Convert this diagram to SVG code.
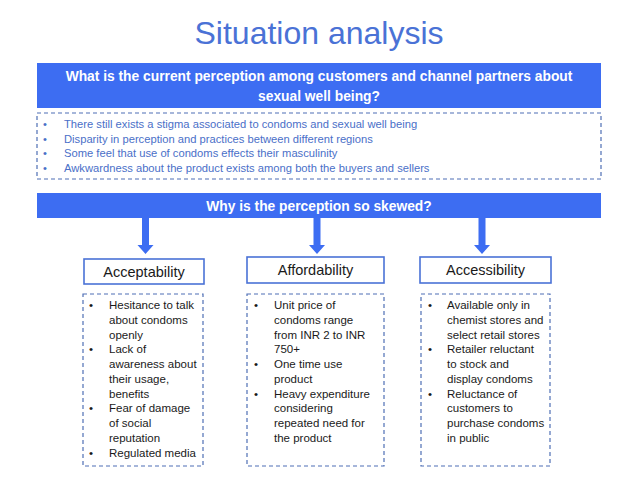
<svg xmlns="http://www.w3.org/2000/svg" width="638" height="479" viewBox="0 0 638 479">
<style>
text{font-family:"Liberation Sans",Arial,sans-serif}
.title{font-size:32px;fill:#4a72d6}
.bar{fill:#3d6df2}
.bt{font-size:13.8px;font-weight:bold;fill:#ffffff}
.dash{fill:#ffffff;stroke:#4f6fb5;stroke-width:1.2;stroke-dasharray:4 3}
.lst{font-size:11.2px;fill:#4a6fc8}
.hdr{fill:#ffffff;stroke:#4a72d6;stroke-width:1.6}
.ht{font-size:14.5px;fill:#1a1a1a}
.bx{font-size:11.5px;fill:#1a1a1a}
.arr{fill:#3d6df2}
</style>
<rect width="638" height="479" fill="#ffffff"/>
<g id="title"><text class="title" x="319" y="44" text-anchor="middle">Situation analysis</text></g>

<g id="q1">
<rect class="bar" x="37" y="63" width="564" height="45"/>
<text class="bt" x="319" y="81" text-anchor="middle">What is the current perception among customers and channel partners about</text>
<text class="bt" x="319" y="101" text-anchor="middle">sexual well being?</text>
</g>

<g id="findings">
<rect class="dash" x="37" y="113" width="564" height="66"/>
<g class="lst">
<text x="43" y="128">•</text><text x="64" y="128">There still exists a stigma associated to condoms and sexual well being</text>
<text x="43" y="143">•</text><text x="64" y="143">Disparity in perception and practices between different regions</text>
<text x="43" y="157">•</text><text x="64" y="157">Some feel that use of condoms effects their masculinity</text>
<text x="43" y="172">•</text><text x="64" y="172">Awkwardness about the product exists among both the buyers and sellers</text>
</g>
</g>

<g id="q2">
<rect class="bar" x="37" y="193" width="564" height="25"/>
<text class="bt" x="319" y="211" text-anchor="middle">Why is the perception so skewed?</text>
</g>

<g id="connectors">
<polygon class="arr" points="142,218 149,218 149,245 153.5,245 145.5,254 137.5,245 142,245"/>
<polygon class="arr" points="313.5,218 320.5,218 320.5,245 325,245 317,254 309,245 313.5,245"/>
<polygon class="arr" points="478.5,218 485.5,218 485.5,245 490,245 482,254 474,245 478.5,245"/>
</g>

<g id="acceptability">
<rect class="hdr" x="84" y="259" width="120" height="25"/>
<text class="ht" x="144" y="277" text-anchor="middle">Acceptability</text>
</g>
<g id="affordability">
<rect class="hdr" x="247" y="257" width="137" height="26"/>
<text class="ht" x="315.5" y="275" text-anchor="middle">Affordability</text>
</g>
<g id="accessibility">
<rect class="hdr" x="420" y="257" width="131" height="26"/>
<text class="ht" x="485.5" y="275" text-anchor="middle">Accessibility</text>
</g>

<g id="acceptability-details">
<rect class="dash" x="83" y="294" width="120" height="172"/>
<g class="bx">
<text x="89" y="309">•</text><text x="109" y="309">Hesitance to talk</text>
<text x="109" y="323.75">about condoms</text>
<text x="109" y="338.5">openly</text>
<text x="89" y="353.25">•</text><text x="109" y="353.25">Lack of</text>
<text x="109" y="368">awareness about</text>
<text x="109" y="382.75">their usage,</text>
<text x="109" y="397.5">benefits</text>
<text x="89" y="412.25">•</text><text x="109" y="412.25">Fear of damage</text>
<text x="109" y="427">of social</text>
<text x="109" y="441.75">reputation</text>
<text x="89" y="456.5">•</text><text x="109" y="456.5">Regulated media</text>
</g>
</g>

<g id="affordability-details">
<rect class="dash" x="247" y="294" width="137" height="172"/>
<g class="bx">
<text x="254" y="309">•</text><text x="274" y="309">Unit price of</text>
<text x="274" y="323.75">condoms range</text>
<text x="274" y="338.5">from INR 2 to INR</text>
<text x="274" y="353.25">750+</text>
<text x="254" y="368">•</text><text x="274" y="368">One time use</text>
<text x="274" y="382.75">product</text>
<text x="254" y="397.5">•</text><text x="274" y="397.5">Heavy expenditure</text>
<text x="274" y="412.25">considering</text>
<text x="274" y="427">repeated need for</text>
<text x="274" y="441.75">the product</text>
</g>
</g>

<g id="accessibility-details">
<rect class="dash" x="421" y="294" width="129" height="172"/>
<g class="bx">
<text x="428" y="309">•</text><text x="447" y="309">Available only in</text>
<text x="447" y="323.75">chemist stores and</text>
<text x="447" y="338.5">select retail stores</text>
<text x="428" y="353.25">•</text><text x="447" y="353.25">Retailer reluctant</text>
<text x="447" y="368">to stock and</text>
<text x="447" y="382.75">display condoms</text>
<text x="428" y="397.5">•</text><text x="447" y="397.5">Reluctance of</text>
<text x="447" y="412.25">customers to</text>
<text x="447" y="427">purchase condoms</text>
<text x="447" y="441.75">in public</text>
</g>
</g>
</svg>
